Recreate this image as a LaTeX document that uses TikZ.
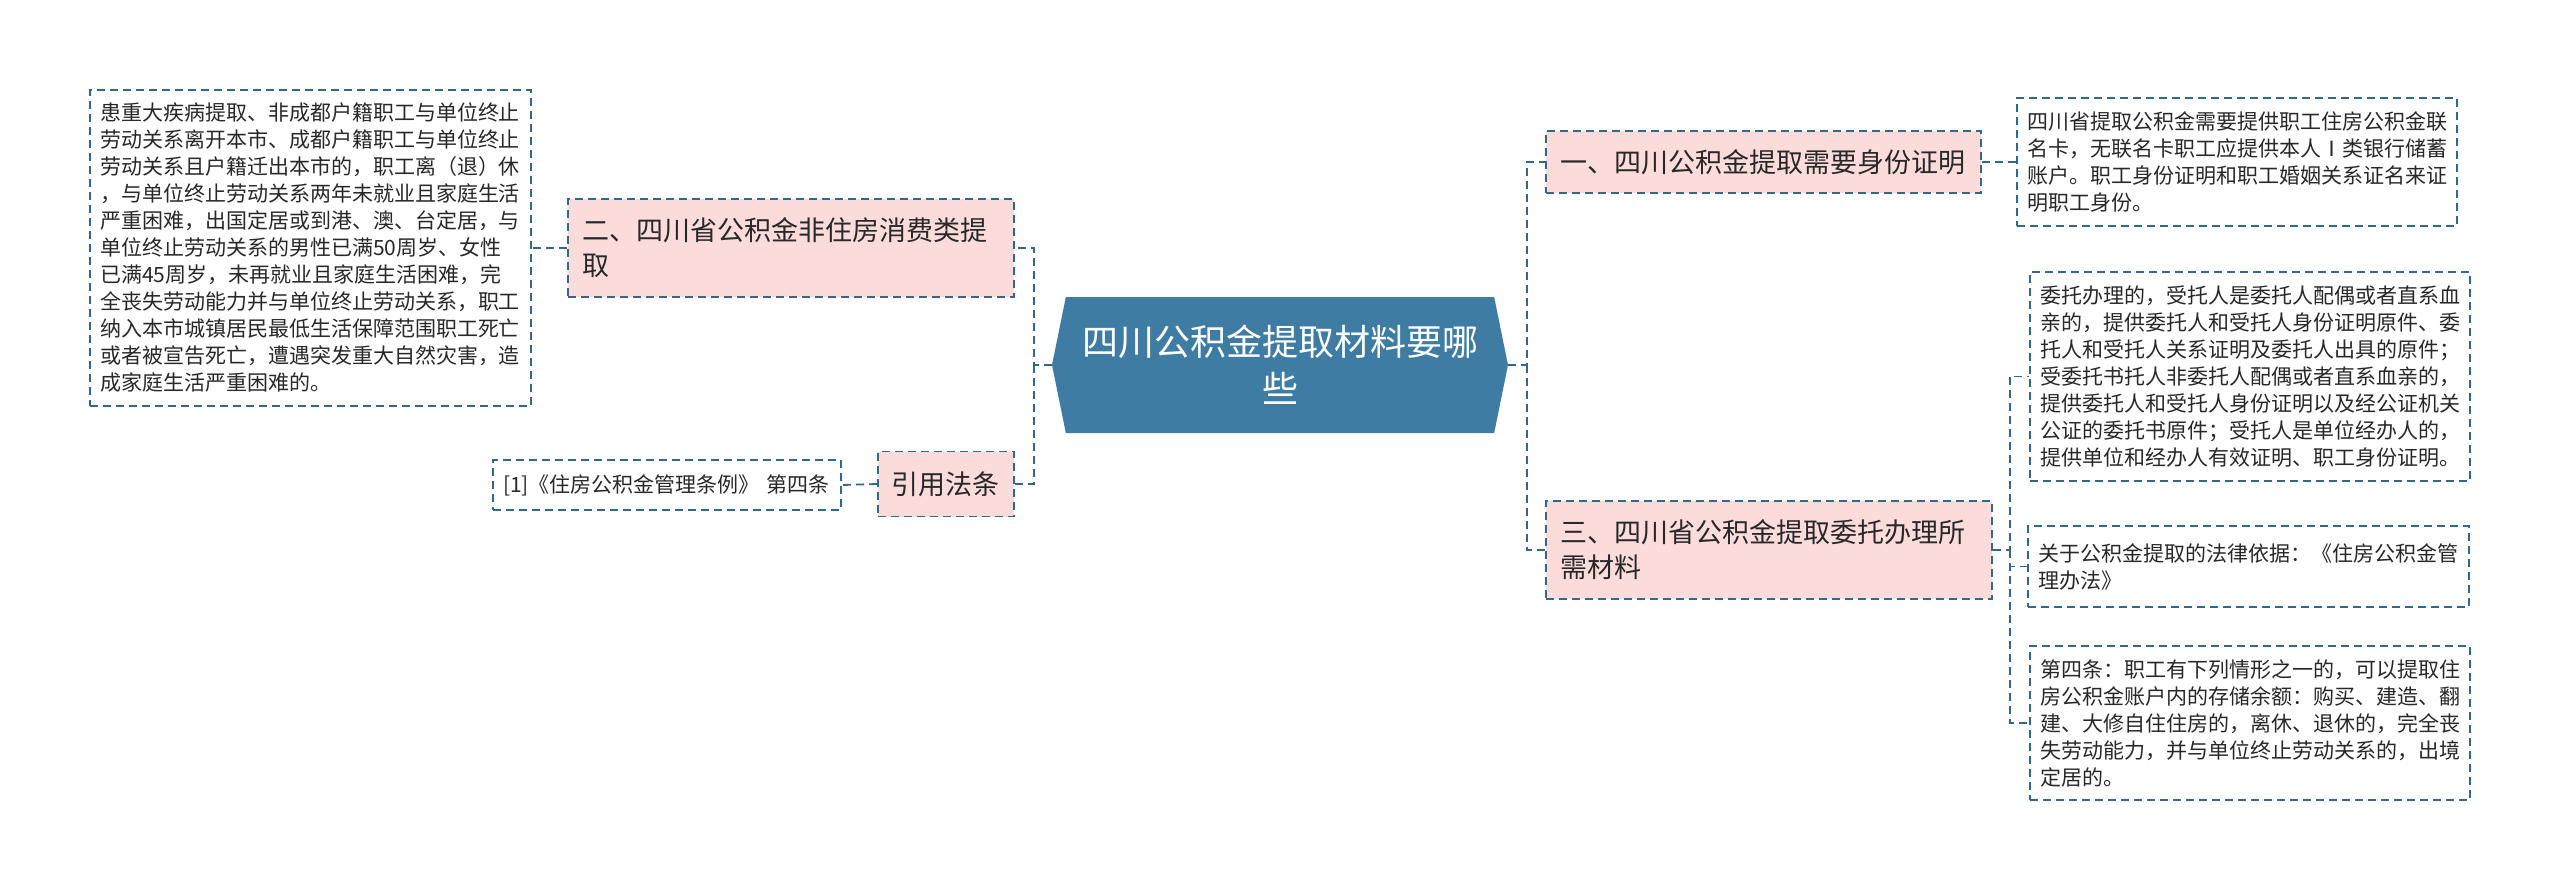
\documentclass[tikz,border=0pt]{standalone}
\usepackage{fontspec}
\newfontfamily\cjk{Noto Sans CJK SC}
\usetikzlibrary{shapes.symbols}
\definecolor{rootblue}{RGB}{62,124,163}
\definecolor{linkblue}{RGB}{52,104,138}
\definecolor{topicpink}{RGB}{251,220,219}
\definecolor{inkgray}{RGB}{40,40,40}
\begin{document}
\begin{tikzpicture}[x=1pt,y=-1pt,
    link/.style={draw=linkblue,line width=1.8pt,dash pattern=on 8pt off 5pt},
    box/.style={link,rectangle,inner sep=0pt,align=left,text=inkgray},
    topic/.style={box,fill=topicpink,font=\cjk\fontsize{27}{35}\selectfont},
    leaf/.style={box,fill=white,font=\cjk\fontsize{21}{27}\selectfont},
    rootnode/.style={signal,signal to=west and east,signal pointer angle=157,
        fill=rootblue,text=white,align=center,inner sep=0pt,
        font=\cjk\fontsize{36}{47}\selectfont}]
    \useasboundingbox (0,0) rectangle (2560,891);
    % centre
    \node[rootnode,minimum width=456,minimum height=136] (root) at (1280,365)
        {四川公积金提取材料要哪\\些};
    % left side
    \node[topic,minimum width=446,minimum height=98,text width=418] (b2) at (791,248)
        {二、四川省公积金非住房消费类提\\取};
    \node[topic,minimum width=136,minimum height=65,text width=110] (law) at (946,484)
        {引用法条};
    \node[leaf,minimum width=441,minimum height=316,text width=421] (dl) at (310.5,248)
        {患重大疾病提取、非成都户籍职工与单位终止\\
         劳动关系离开本市、成都户籍职工与单位终止\\
         劳动关系且户籍迁出本市的，职工离（退）休\\
         ，与单位终止劳动关系两年未就业且家庭生活\\
         严重困难，出国定居或到港、澳、台定居，与\\
         单位终止劳动关系的男性已满50周岁、女性\\
         已满45周岁，未再就业且家庭生活困难，完\\
         全丧失劳动能力并与单位终止劳动关系，职工\\
         纳入本市城镇居民最低生活保障范围职工死亡\\
         或者被宣告死亡，遭遇突发重大自然灾害，造\\
         成家庭生活严重困难的。};
    \node[leaf,minimum width=348,minimum height=50,text width=328] (ref) at (667,485)
        {[1]《住房公积金管理条例》 第四条};
    % right side
    \node[topic,minimum width=435,minimum height=62,text width=407] (b1) at (1763.5,162)
        {一、四川公积金提取需要身份证明};
    \node[topic,minimum width=446,minimum height=98,text width=418] (b3) at (1769,550)
        {三、四川省公积金提取委托办理所\\需材料};
    \node[leaf,minimum width=440,minimum height=128,text width=420] (d1) at (2237,162)
        {四川省提取公积金需要提供职工住房公积金联\\
         名卡，无联名卡职工应提供本人Ⅰ类银行储蓄\\
         账户。职工身份证明和职工婚姻关系证名来证\\
         明职工身份。};
    \node[leaf,minimum width=440,minimum height=209,text width=420] (d3a) at (2250,376.5)
        {委托办理的，受托人是委托人配偶或者直系血\\
         亲的，提供委托人和受托人身份证明原件、委\\
         托人和受托人关系证明及委托人出具的原件；\\
         受委托书托人非委托人配偶或者直系血亲的，\\
         提供委托人和受托人身份证明以及经公证机关\\
         公证的委托书原件；受托人是单位经办人的，\\
         提供单位和经办人有效证明、职工身份证明。};
    \node[leaf,minimum width=441,minimum height=81,text width=421] (d3b) at (2248.5,566.5)
        {关于公积金提取的法律依据：《住房公积金管\\理办法》};
    \node[leaf,minimum width=440,minimum height=154,text width=420] (d3c) at (2250,723)
        {第四条：职工有下列情形之一的，可以提取住\\
         房公积金账户内的存储余额：购买、建造、翻\\
         建、大修自住住房的，离休、退休的，完全丧\\
         失劳动能力，并与单位终止劳动关系的，出境\\
         定居的。};
    % connectors
    \coordinate (jl) at (1034,365);
    \coordinate (jr) at (1527,365);
    \coordinate (j3) at (2010,550);
    \draw[link] (root.west) -- (jl) |- (b2.east);
    \draw[link] (jl) |- (law.east);
    \draw[link] (root.east) -- (jr) |- (b1.west);
    \draw[link] (jr) |- (b3.west);
    \draw[link] (b2.west) -- (dl.east);
    \draw[link] (law.west) -- (ref.east);
    \draw[link] (b1.east) -- (d1.west);
    \draw[link] (b3.east) -- (j3) |- (d3a.west);
    \draw[link] (j3) |- (d3b.west);
    \draw[link] (j3) |- (d3c.west);
\end{tikzpicture}
\end{document}
